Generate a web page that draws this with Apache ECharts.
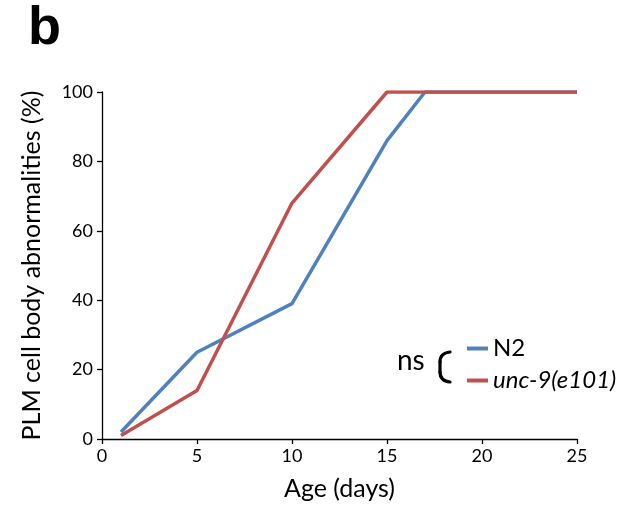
<!DOCTYPE html>
<html>
<head>
<meta charset="utf-8">
<script src="https://cdn.jsdelivr.net/npm/echarts@6/dist/echarts.min.js"></script>
<style>
  html, body { margin: 0; padding: 0; background: #fff; }
  #chart { width: 641px; height: 510px; }
</style>
</head>
<body>
<div id="chart"></div>
<script>
// Age in days and percentage of PLM neurons with cell body abnormalities
const days = [1, 5, 10, 15, 17, 20, 25];
const n2Values = [2, 25, 39, 86, 100, 100, 100];
const unc9Days = [1, 5, 10, 15, 20, 25];
const unc9Values = [1, 14, 68, 100, 100, 100];
const seriesNames = ['N2', 'unc-9(e101)'];
const xTicks = [0, 5, 10, 15, 20, 25];
const yTicks = [0, 20, 40, 60, 80, 100];

const FONT = 'Lato';
const BLUE = '#4F81BD';
const RED = '#C0504D';

const chart = echarts.init(document.getElementById('chart'), null, { renderer: 'canvas' });

const pair = (xs, ys) => xs.map((x, i) => [x, ys[i]]);
const bracketStyle = { stroke: '#000', lineWidth: 3.2, fill: null, lineCap: 'round' };

chart.setOption({
  animation: false,
  backgroundColor: '#fff',
  grid: { left: 102, right: 64, top: 92, bottom: 71, containLabel: false },
  xAxis: {
    type: 'value',
    min: xTicks[0], max: xTicks[xTicks.length - 1], interval: 5,
    name: 'Age (days)', nameLocation: 'middle', nameGap: 37,
    nameTextStyle: { fontFamily: FONT, fontSize: 25, color: '#000' },
    axisLine: { show: true, lineStyle: { color: '#000', width: 1.3 } },
    axisTick: { show: true, length: 5, lineStyle: { color: '#000', width: 1.3 } },
    axisLabel: { fontFamily: FONT, fontSize: 18, color: '#000', margin: 8 },
    splitLine: { show: false }
  },
  yAxis: {
    type: 'value',
    min: yTicks[0], max: yTicks[yTicks.length - 1], interval: 20,
    name: 'PLM cell body abnormalities (%)', nameLocation: 'middle', nameGap: 58,
    nameTextStyle: { fontFamily: FONT, fontSize: 25, color: '#000' },
    axisLine: { show: true, lineStyle: { color: '#000', width: 1.3 } },
    axisTick: { show: true, length: 5, lineStyle: { color: '#000', width: 1.3 } },
    axisLabel: { fontFamily: FONT, fontSize: 18, color: '#000', margin: 9 },
    splitLine: { show: false }
  },
  legend: {
    orient: 'vertical',
    left: 467, top: 336, padding: 0,
    itemWidth: 21, itemHeight: 4, itemGap: 7,
    icon: 'rect',
    data: seriesNames,
    formatter: name => name === seriesNames[1] ? '{it|' + name + '}' : name,
    textStyle: {
      fontFamily: FONT, fontSize: 24, color: '#000', lineHeight: 25,
      rich: { it: { fontFamily: FONT, fontSize: 24, fontStyle: 'italic', color: '#000' } }
    }
  },
  graphic: [
    { type: 'text', x: 28, y: 2,
      style: { text: 'b', fontFamily: 'Liberation Sans', fontWeight: 'bold', fontSize: 54, fill: '#000' } },
    { type: 'text', x: 397, y: 347,
      style: { text: 'ns', fontFamily: FONT, fontSize: 28, fill: '#000' } },
    // curly bracket joining the two legend entries
    { type: 'bezierCurve', shape: { x1: 440, y1: 362, cpx1: 440, cpy1: 353, x2: 450, y2: 352 }, style: bracketStyle },
    { type: 'line', shape: { x1: 440, y1: 362, x2: 440, y2: 372 }, style: bracketStyle },
    { type: 'bezierCurve', shape: { x1: 440, y1: 372, cpx1: 440, cpy1: 381, x2: 450, y2: 382 }, style: bracketStyle }
  ],
  series: [
    { name: seriesNames[0], type: 'line', data: pair(days, n2Values),
      showSymbol: false, symbol: 'none', color: BLUE,
      lineStyle: { color: BLUE, width: 3.5 }, z: 2 },
    { name: seriesNames[1], type: 'line', data: pair(unc9Days, unc9Values),
      showSymbol: false, symbol: 'none', color: RED,
      lineStyle: { color: RED, width: 3.5 }, z: 3 }
  ]
});
</script>
</body>
</html>
